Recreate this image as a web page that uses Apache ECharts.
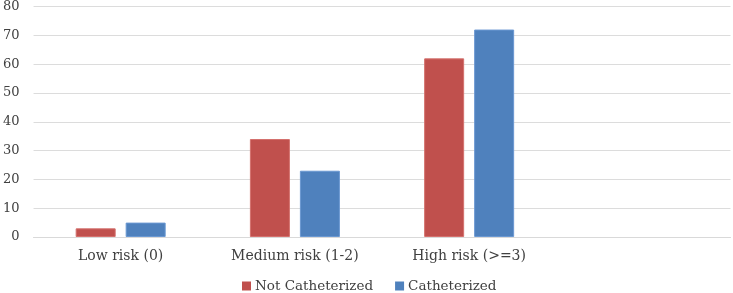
<!DOCTYPE html>
<html>
<head>
<meta charset="utf-8">
<script src="https://cdn.jsdelivr.net/npm/echarts@6/dist/echarts.min.js"></script>
<style>html,body{margin:0;padding:0;background:#fff;}#c{width:733px;height:293px;}</style>
</head>
<body>
<div id="c"></div>
<script>
const categories = ['Low risk (0)', 'Medium risk (1-2)', 'High risk (>=3)', ''];
const seriesNames = ['Not Catheterized', 'Catheterized'];
const notCatheterized = [3, 34, 62, null];
const catheterized = [5, 23, 72, null];
const yTicks = { min: 0, max: 80, interval: 10 };

const chart = echarts.init(document.getElementById('c'), null, { renderer: 'canvas' });
const font = '"DejaVu Serif", "Liberation Serif", serif';
chart.setOption({
  animation: false,
  textStyle: { fontFamily: font },
  grid: { left: 30.5, right: 2.5, top: 6, bottom: 56, containLabel: false },
  legend: {
    data: seriesNames,
    left: 242, top: 279, padding: 0,
    itemWidth: 9, itemHeight: 9, itemGap: 22,
    icon: 'rect',
    itemStyle: { borderWidth: 0 },
    textStyle: { fontFamily: font, fontSize: 13.5, color: '#404040', padding: [0,0,0,-1] }
  },
  xAxis: {
    type: 'category',
    data: categories,
    axisLine: { lineStyle: { color: '#d9d9d9', width: 1 } },
    axisTick: { show: false },
    axisLabel: { fontFamily: font, fontSize: 14, color: '#404040', margin: 12, interval: 0 }
  },
  yAxis: {
    type: 'value',
    min: yTicks.min, max: yTicks.max, interval: yTicks.interval,
    axisLine: { show: false },
    axisTick: { show: false },
    splitLine: { lineStyle: { color: '#dcdcdc', width: 1 } },
    axisLabel: { fontFamily: font, fontSize: 13, color: '#404040', margin: 14 }
  },
  series: [
    { name: seriesNames[0], type: 'bar', data: notCatheterized, barWidth: 40, barGap: '25%',
      itemStyle: { color: '#C0504D', borderColor: '#d4706d', borderWidth: 1 } },
    { name: seriesNames[1], type: 'bar', data: catheterized, barWidth: 40, barGap: '25%',
      itemStyle: { color: '#4F81BD', borderColor: '#6a98d2', borderWidth: 1 } }
  ]
});
</script>
</body>
</html>
